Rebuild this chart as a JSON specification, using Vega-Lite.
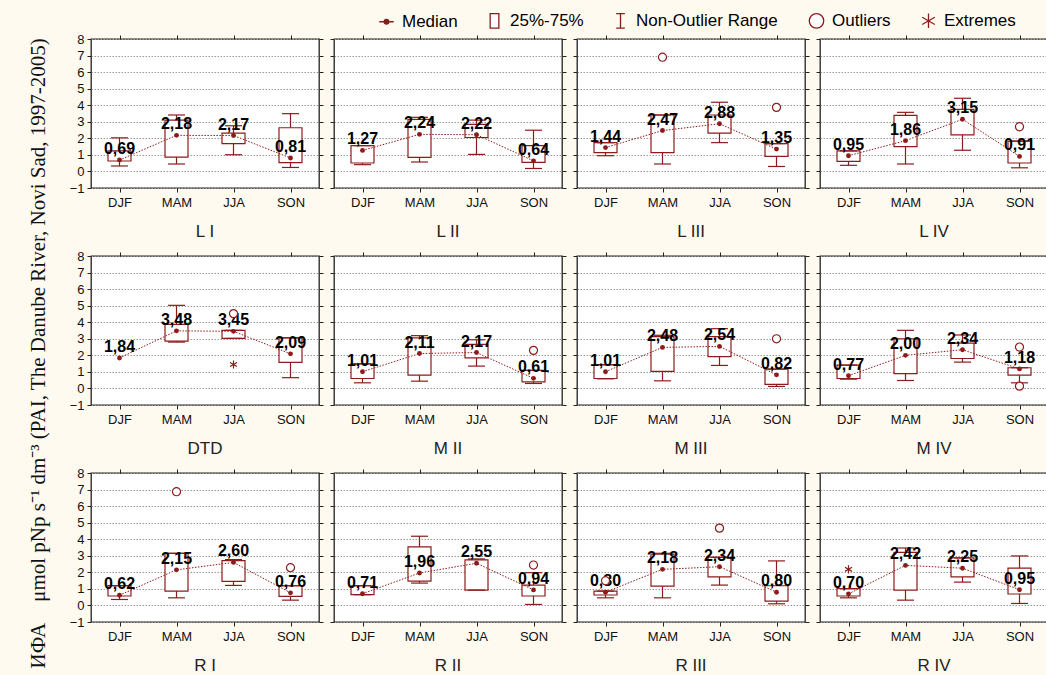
{
"$schema":"https://vega.github.io/schema/vega-lite/v6.json",
"background":"#FFFAF0",
"padding":{"left":27,"top":12,"right":0,"bottom":0},
"title":{"text":"ИФА\u00a0\u00a0\u00a0 μmol pNp s⁻¹ dm⁻³ (PAI, The Danube River, Novi Sad, 1997-2005)","orient":"left","anchor":"middle","font":"Liberation Serif","fontSize":21,"fontWeight":"normal","color":"#111","offset":20,"dx":-10},
"data":{"values":[
{"p":"L I","s":"DJF","lo":0.33,"q1":0.63,"md":0.69,"q3":1.24,"hi":2.03,"lab":"0,69"},
{"p":"L I","s":"MAM","lo":0.45,"q1":0.87,"md":2.18,"q3":3.1,"hi":3.41,"lab":"2,18"},
{"p":"L I","s":"JJA","lo":1.01,"q1":1.68,"md":2.17,"q3":2.31,"hi":2.76,"lab":"2,17"},
{"p":"L I","s":"SON","lo":0.24,"q1":0.53,"md":0.81,"q3":2.64,"hi":3.49,"lab":"0,81"},
{"p":"L II","s":"DJF","lo":0.41,"q1":0.51,"md":1.27,"q3":1.56,"hi":1.56,"lab":"1,27"},
{"p":"L II","s":"MAM","lo":0.57,"q1":0.85,"md":2.24,"q3":3.14,"hi":3.27,"lab":"2,24"},
{"p":"L II","s":"JJA","lo":1.03,"q1":2.05,"md":2.22,"q3":2.84,"hi":3.1,"lab":"2,22"},
{"p":"L II","s":"SON","lo":0.18,"q1":0.55,"md":0.64,"q3":1.56,"hi":2.49,"lab":"0,64"},
{"p":"L III","s":"DJF","lo":0.95,"q1":1.14,"md":1.44,"q3":1.74,"hi":1.74,"lab":"1,44"},
{"p":"L III","s":"MAM","lo":0.45,"q1":1.14,"md":2.47,"q3":3.41,"hi":3.41,"lab":"2,47"},
{"p":"L III","s":"JJA","lo":1.74,"q1":2.31,"md":2.88,"q3":3.41,"hi":4.18,"lab":"2,88"},
{"p":"L III","s":"SON","lo":0.3,"q1":0.91,"md":1.35,"q3":1.68,"hi":1.68,"lab":"1,35"},
{"p":"L III","s":"MAM","v":6.9,"k":"Outliers"},
{"p":"L III","s":"SON","v":3.87,"k":"Outliers"},
{"p":"L IV","s":"DJF","lo":0.37,"q1":0.61,"md":0.95,"q3":1.24,"hi":1.24,"lab":"0,95"},
{"p":"L IV","s":"MAM","lo":0.45,"q1":1.5,"md":1.86,"q3":3.39,"hi":3.57,"lab":"1,86"},
{"p":"L IV","s":"JJA","lo":1.28,"q1":2.21,"md":3.15,"q3":3.75,"hi":4.42,"lab":"3,15"},
{"p":"L IV","s":"SON","lo":0.22,"q1":0.51,"md":0.91,"q3":1.83,"hi":1.83,"lab":"0,91"},
{"p":"L IV","s":"SON","v":2.7,"k":"Outliers"},
{"p":"DTD","s":"DJF","lo":null,"q1":null,"md":1.84,"q3":null,"hi":null,"lab":"1,84"},
{"p":"DTD","s":"MAM","lo":2.8,"q1":2.86,"md":3.48,"q3":3.87,"hi":5.02,"lab":"3,48"},
{"p":"DTD","s":"JJA","lo":3.02,"q1":3.02,"md":3.45,"q3":3.51,"hi":3.51,"lab":"3,45"},
{"p":"DTD","s":"SON","lo":0.65,"q1":1.57,"md":2.09,"q3":3.06,"hi":3.06,"lab":"2,09"},
{"p":"DTD","s":"JJA","v":4.52,"k":"Outliers"},
{"p":"DTD","s":"JJA","v":1.45,"k":"Extremes"},
{"p":"M II","s":"DJF","lo":0.34,"q1":0.6,"md":1.01,"q3":1.49,"hi":1.49,"lab":"1,01"},
{"p":"M II","s":"MAM","lo":0.44,"q1":0.81,"md":2.11,"q3":3.06,"hi":3.19,"lab":"2,11"},
{"p":"M II","s":"JJA","lo":1.35,"q1":1.85,"md":2.17,"q3":2.66,"hi":2.94,"lab":"2,17"},
{"p":"M II","s":"SON","lo":0.3,"q1":0.4,"md":0.61,"q3":1.09,"hi":1.09,"lab":"0,61"},
{"p":"M II","s":"SON","v":2.3,"k":"Outliers"},
{"p":"M III","s":"DJF","lo":0.58,"q1":0.6,"md":1.01,"q3":1.43,"hi":1.43,"lab":"1,01"},
{"p":"M III","s":"MAM","lo":0.46,"q1":1.03,"md":2.48,"q3":3.13,"hi":3.21,"lab":"2,48"},
{"p":"M III","s":"JJA","lo":1.39,"q1":1.92,"md":2.54,"q3":3.13,"hi":3.61,"lab":"2,54"},
{"p":"M III","s":"SON","lo":0.12,"q1":0.24,"md":0.82,"q3":1.17,"hi":1.17,"lab":"0,82"},
{"p":"M III","s":"SON","v":3.0,"k":"Outliers"},
{"p":"M IV","s":"DJF","lo":0.56,"q1":0.6,"md":0.77,"q3":1.41,"hi":1.41,"lab":"0,77"},
{"p":"M IV","s":"MAM","lo":0.48,"q1":0.89,"md":2.0,"q3":3.0,"hi":3.51,"lab":"2,00"},
{"p":"M IV","s":"JJA","lo":1.59,"q1":1.81,"md":2.34,"q3":2.74,"hi":3.23,"lab":"2,34"},
{"p":"M IV","s":"SON","lo":0.34,"q1":0.81,"md":1.18,"q3":1.25,"hi":1.25,"lab":"1,18"},
{"p":"M IV","s":"SON","v":2.5,"k":"Outliers"},
{"p":"M IV","s":"SON","v":0.14,"k":"Outliers"},
{"p":"R I","s":"DJF","lo":0.36,"q1":0.57,"md":0.62,"q3":1.2,"hi":1.2,"lab":"0,62"},
{"p":"R I","s":"MAM","lo":0.46,"q1":0.87,"md":2.15,"q3":3.15,"hi":3.15,"lab":"2,15"},
{"p":"R I","s":"JJA","lo":1.21,"q1":1.45,"md":2.6,"q3":2.71,"hi":2.77,"lab":"2,60"},
{"p":"R I","s":"SON","lo":0.32,"q1":0.55,"md":0.76,"q3":1.19,"hi":1.19,"lab":"0,76"},
{"p":"R I","s":"MAM","v":6.87,"k":"Outliers"},
{"p":"R I","s":"SON","v":2.28,"k":"Outliers"},
{"p":"R II","s":"DJF","lo":0.65,"q1":0.65,"md":0.71,"q3":1.19,"hi":1.19,"lab":"0,71"},
{"p":"R II","s":"MAM","lo":1.35,"q1":1.47,"md":1.96,"q3":3.54,"hi":4.18,"lab":"1,96"},
{"p":"R II","s":"JJA","lo":0.93,"q1":0.93,"md":2.55,"q3":2.75,"hi":2.81,"lab":"2,55"},
{"p":"R II","s":"SON","lo":0.06,"q1":0.57,"md":0.94,"q3":1.23,"hi":1.98,"lab":"0,94"},
{"p":"R II","s":"SON","v":2.44,"k":"Outliers"},
{"p":"R III","s":"DJF","lo":0.46,"q1":0.63,"md":0.8,"q3":0.87,"hi":0.87,"lab":"0,80"},
{"p":"R III","s":"MAM","lo":0.46,"q1":1.17,"md":2.18,"q3":3.1,"hi":3.15,"lab":"2,18"},
{"p":"R III","s":"JJA","lo":1.23,"q1":1.72,"md":2.34,"q3":2.91,"hi":2.91,"lab":"2,34"},
{"p":"R III","s":"SON","lo":0.1,"q1":0.26,"md":0.8,"q3":1.19,"hi":2.69,"lab":"0,80"},
{"p":"R III","s":"DJF","v":1.49,"k":"Outliers"},
{"p":"R III","s":"JJA","v":4.67,"k":"Outliers"},
{"p":"R IV","s":"DJF","lo":0.46,"q1":0.57,"md":0.7,"q3":1.01,"hi":1.01,"lab":"0,70"},
{"p":"R IV","s":"MAM","lo":0.32,"q1":0.93,"md":2.42,"q3":3.21,"hi":3.47,"lab":"2,42"},
{"p":"R IV","s":"JJA","lo":1.41,"q1":1.72,"md":2.25,"q3":2.87,"hi":2.87,"lab":"2,25"},
{"p":"R IV","s":"SON","lo":0.12,"q1":0.69,"md":0.95,"q3":2.26,"hi":2.99,"lab":"0,95"},
{"p":"R IV","s":"DJF","v":2.18,"k":"Extremes"}
]},
"columns":4,
"spacing":{"row":68,"column":15},
"bounds":"flush",
"concat":[
{"width":228,"height":149,"title":"L I","transform":[{"filter":"datum.p==='L I'"}],"resolve":{"axis":{"x":"independent","y":"independent"}},"layer":[
{"transform":[{"filter":"!datum.k"}],"mark":{"type":"rule","color":"#8E1B1B","strokeWidth":1.2},"encoding":{"x":{"field":"s","type":"nominal","title":null,"scale":{"type":"point","padding":0.5,"domain":["DJF","MAM","JJA","SON"]},"axis":{"orient":"bottom"}},"y":{"field":"lo","type":"quantitative","title":null,"scale":{"domain":[-1,8],"nice":false,"zero":false},"axis":{"orient":"left","labels":true,"values":[-1,0,1,2,3,4,5,6,7,8]}},"y2":{"field":"hi"}}},
{"transform":[{"filter":"!datum.k"}],"mark":{"type":"bar","width":23,"fill":"white","stroke":"#8E1B1B","strokeWidth":1.2},"encoding":{"x":{"field":"s","type":"nominal","title":null,"axis":{"orient":"top","labels":false}},"y":{"field":"q1","type":"quantitative","title":null,"axis":{"orient":"right","labels":false,"grid":false,"values":[-1,0,1,2,3,4,5,6,7,8]}},"y2":{"field":"q3"}}},
{"transform":[{"filter":"!datum.k"},{"fold":["lo","hi"],"as":["w","wv"]}],"mark":{"type":"tick","orient":"horizontal","size":17,"thickness":1.2,"color":"#8E1B1B","opacity":1},"encoding":{"x":{"field":"s","type":"nominal","axis":null},"y":{"field":"wv","type":"quantitative","axis":null}}},
{"transform":[{"filter":"!datum.k"}],"mark":{"type":"line","color":"#8E1B1B","strokeWidth":1,"strokeDash":[1.5,1.5]},"encoding":{"x":{"field":"s","type":"nominal","axis":null},"y":{"field":"md","type":"quantitative","axis":null},"order":{"value":null}}},
{"transform":[{"filter":"!datum.k"}],"mark":{"type":"circle","size":24,"color":"#8E1B1B","opacity":1},"encoding":{"x":{"field":"s","type":"nominal","axis":null},"y":{"field":"md","type":"quantitative","axis":null}}},
{"transform":[{"filter":"!datum.k"}],"mark":{"type":"text","dy":-11,"font":"Liberation Sans","fontSize":16,"fontWeight":"bold","color":"#000"},"encoding":{"x":{"field":"s","type":"nominal","axis":null},"y":{"field":"md","type":"quantitative","axis":null},"text":{"field":"lab"}}},
{"transform":[{"filter":"datum.k"}],"mark":{"type":"point","size":65,"strokeWidth":1.2,"opacity":1},"encoding":{"x":{"field":"s","type":"nominal","axis":null},"y":{"field":"v","type":"quantitative","axis":null},"shape":{"field":"k","type":"nominal","title":null,"scale":{"domain":["Median","25%-75%","Non-Outlier Range","Outliers","Extremes"],"range":["M-1,0H-0.3M0.3,0H1M-0.32,0A0.32,0.32,0,1,1,0.32,0A0.32,0.32,0,1,1,-0.32,0Z","M-0.6,-1H0.6V1H-0.6Z","M-0.6,-1H0.6M0,-1V1M-0.6,1H0.6","circle","M0,-1V1M-0.87,-0.5L0.87,0.5M-0.87,0.5L0.87,-0.5"]}},"fill":{"field":"k","type":"nominal","title":null,"scale":{"domain":["Median","25%-75%","Non-Outlier Range","Outliers","Extremes"],"range":["#8E1B1B","white","transparent","white","transparent"]}},"stroke":{"field":"k","type":"nominal","title":null,"scale":{"domain":["Median","25%-75%","Non-Outlier Range","Outliers","Extremes"],"range":["#8E1B1B","#8E1B1B","#8E1B1B","#8E1B1B","#8E1B1B"]}}}}
]},
{"width":228,"height":149,"title":"L II","transform":[{"filter":"datum.p==='L II'"}],"resolve":{"axis":{"x":"independent","y":"independent"}},"layer":[
{"transform":[{"filter":"!datum.k"}],"mark":{"type":"rule","color":"#8E1B1B","strokeWidth":1.2},"encoding":{"x":{"field":"s","type":"nominal","title":null,"scale":{"type":"point","padding":0.5,"domain":["DJF","MAM","JJA","SON"]},"axis":{"orient":"bottom"}},"y":{"field":"lo","type":"quantitative","title":null,"scale":{"domain":[-1,8],"nice":false,"zero":false},"axis":{"orient":"left","labels":false,"values":[-1,0,1,2,3,4,5,6,7,8]}},"y2":{"field":"hi"}}},
{"transform":[{"filter":"!datum.k"}],"mark":{"type":"bar","width":23,"fill":"white","stroke":"#8E1B1B","strokeWidth":1.2},"encoding":{"x":{"field":"s","type":"nominal","title":null,"axis":{"orient":"top","labels":false}},"y":{"field":"q1","type":"quantitative","title":null,"axis":{"orient":"right","labels":false,"grid":false,"values":[-1,0,1,2,3,4,5,6,7,8]}},"y2":{"field":"q3"}}},
{"transform":[{"filter":"!datum.k"},{"fold":["lo","hi"],"as":["w","wv"]}],"mark":{"type":"tick","orient":"horizontal","size":17,"thickness":1.2,"color":"#8E1B1B","opacity":1},"encoding":{"x":{"field":"s","type":"nominal","axis":null},"y":{"field":"wv","type":"quantitative","axis":null}}},
{"transform":[{"filter":"!datum.k"}],"mark":{"type":"line","color":"#8E1B1B","strokeWidth":1,"strokeDash":[1.5,1.5]},"encoding":{"x":{"field":"s","type":"nominal","axis":null},"y":{"field":"md","type":"quantitative","axis":null},"order":{"value":null}}},
{"transform":[{"filter":"!datum.k"}],"mark":{"type":"circle","size":24,"color":"#8E1B1B","opacity":1},"encoding":{"x":{"field":"s","type":"nominal","axis":null},"y":{"field":"md","type":"quantitative","axis":null}}},
{"transform":[{"filter":"!datum.k"}],"mark":{"type":"text","dy":-11,"font":"Liberation Sans","fontSize":16,"fontWeight":"bold","color":"#000"},"encoding":{"x":{"field":"s","type":"nominal","axis":null},"y":{"field":"md","type":"quantitative","axis":null},"text":{"field":"lab"}}},
{"transform":[{"filter":"datum.k"}],"mark":{"type":"point","size":65,"strokeWidth":1.2,"opacity":1},"encoding":{"x":{"field":"s","type":"nominal","axis":null},"y":{"field":"v","type":"quantitative","axis":null},"shape":{"field":"k","type":"nominal","title":null,"scale":{"domain":["Median","25%-75%","Non-Outlier Range","Outliers","Extremes"],"range":["M-1,0H-0.3M0.3,0H1M-0.32,0A0.32,0.32,0,1,1,0.32,0A0.32,0.32,0,1,1,-0.32,0Z","M-0.6,-1H0.6V1H-0.6Z","M-0.6,-1H0.6M0,-1V1M-0.6,1H0.6","circle","M0,-1V1M-0.87,-0.5L0.87,0.5M-0.87,0.5L0.87,-0.5"]}},"fill":{"field":"k","type":"nominal","title":null,"scale":{"domain":["Median","25%-75%","Non-Outlier Range","Outliers","Extremes"],"range":["#8E1B1B","white","transparent","white","transparent"]}},"stroke":{"field":"k","type":"nominal","title":null,"scale":{"domain":["Median","25%-75%","Non-Outlier Range","Outliers","Extremes"],"range":["#8E1B1B","#8E1B1B","#8E1B1B","#8E1B1B","#8E1B1B"]}}}}
]},
{"width":228,"height":149,"title":"L III","transform":[{"filter":"datum.p==='L III'"}],"resolve":{"axis":{"x":"independent","y":"independent"}},"layer":[
{"transform":[{"filter":"!datum.k"}],"mark":{"type":"rule","color":"#8E1B1B","strokeWidth":1.2},"encoding":{"x":{"field":"s","type":"nominal","title":null,"scale":{"type":"point","padding":0.5,"domain":["DJF","MAM","JJA","SON"]},"axis":{"orient":"bottom"}},"y":{"field":"lo","type":"quantitative","title":null,"scale":{"domain":[-1,8],"nice":false,"zero":false},"axis":{"orient":"left","labels":false,"values":[-1,0,1,2,3,4,5,6,7,8]}},"y2":{"field":"hi"}}},
{"transform":[{"filter":"!datum.k"}],"mark":{"type":"bar","width":23,"fill":"white","stroke":"#8E1B1B","strokeWidth":1.2},"encoding":{"x":{"field":"s","type":"nominal","title":null,"axis":{"orient":"top","labels":false}},"y":{"field":"q1","type":"quantitative","title":null,"axis":{"orient":"right","labels":false,"grid":false,"values":[-1,0,1,2,3,4,5,6,7,8]}},"y2":{"field":"q3"}}},
{"transform":[{"filter":"!datum.k"},{"fold":["lo","hi"],"as":["w","wv"]}],"mark":{"type":"tick","orient":"horizontal","size":17,"thickness":1.2,"color":"#8E1B1B","opacity":1},"encoding":{"x":{"field":"s","type":"nominal","axis":null},"y":{"field":"wv","type":"quantitative","axis":null}}},
{"transform":[{"filter":"!datum.k"}],"mark":{"type":"line","color":"#8E1B1B","strokeWidth":1,"strokeDash":[1.5,1.5]},"encoding":{"x":{"field":"s","type":"nominal","axis":null},"y":{"field":"md","type":"quantitative","axis":null},"order":{"value":null}}},
{"transform":[{"filter":"!datum.k"}],"mark":{"type":"circle","size":24,"color":"#8E1B1B","opacity":1},"encoding":{"x":{"field":"s","type":"nominal","axis":null},"y":{"field":"md","type":"quantitative","axis":null}}},
{"transform":[{"filter":"!datum.k"}],"mark":{"type":"text","dy":-11,"font":"Liberation Sans","fontSize":16,"fontWeight":"bold","color":"#000"},"encoding":{"x":{"field":"s","type":"nominal","axis":null},"y":{"field":"md","type":"quantitative","axis":null},"text":{"field":"lab"}}},
{"transform":[{"filter":"datum.k"}],"mark":{"type":"point","size":65,"strokeWidth":1.2,"opacity":1},"encoding":{"x":{"field":"s","type":"nominal","axis":null},"y":{"field":"v","type":"quantitative","axis":null},"shape":{"field":"k","type":"nominal","title":null,"scale":{"domain":["Median","25%-75%","Non-Outlier Range","Outliers","Extremes"],"range":["M-1,0H-0.3M0.3,0H1M-0.32,0A0.32,0.32,0,1,1,0.32,0A0.32,0.32,0,1,1,-0.32,0Z","M-0.6,-1H0.6V1H-0.6Z","M-0.6,-1H0.6M0,-1V1M-0.6,1H0.6","circle","M0,-1V1M-0.87,-0.5L0.87,0.5M-0.87,0.5L0.87,-0.5"]}},"fill":{"field":"k","type":"nominal","title":null,"scale":{"domain":["Median","25%-75%","Non-Outlier Range","Outliers","Extremes"],"range":["#8E1B1B","white","transparent","white","transparent"]}},"stroke":{"field":"k","type":"nominal","title":null,"scale":{"domain":["Median","25%-75%","Non-Outlier Range","Outliers","Extremes"],"range":["#8E1B1B","#8E1B1B","#8E1B1B","#8E1B1B","#8E1B1B"]}}}}
]},
{"width":228,"height":149,"title":"L IV","transform":[{"filter":"datum.p==='L IV'"}],"resolve":{"axis":{"x":"independent","y":"independent"}},"layer":[
{"transform":[{"filter":"!datum.k"}],"mark":{"type":"rule","color":"#8E1B1B","strokeWidth":1.2},"encoding":{"x":{"field":"s","type":"nominal","title":null,"scale":{"type":"point","padding":0.5,"domain":["DJF","MAM","JJA","SON"]},"axis":{"orient":"bottom"}},"y":{"field":"lo","type":"quantitative","title":null,"scale":{"domain":[-1,8],"nice":false,"zero":false},"axis":{"orient":"left","labels":false,"values":[-1,0,1,2,3,4,5,6,7,8]}},"y2":{"field":"hi"}}},
{"transform":[{"filter":"!datum.k"}],"mark":{"type":"bar","width":23,"fill":"white","stroke":"#8E1B1B","strokeWidth":1.2},"encoding":{"x":{"field":"s","type":"nominal","title":null,"axis":{"orient":"top","labels":false}},"y":{"field":"q1","type":"quantitative","title":null,"axis":{"orient":"right","labels":false,"grid":false,"values":[-1,0,1,2,3,4,5,6,7,8]}},"y2":{"field":"q3"}}},
{"transform":[{"filter":"!datum.k"},{"fold":["lo","hi"],"as":["w","wv"]}],"mark":{"type":"tick","orient":"horizontal","size":17,"thickness":1.2,"color":"#8E1B1B","opacity":1},"encoding":{"x":{"field":"s","type":"nominal","axis":null},"y":{"field":"wv","type":"quantitative","axis":null}}},
{"transform":[{"filter":"!datum.k"}],"mark":{"type":"line","color":"#8E1B1B","strokeWidth":1,"strokeDash":[1.5,1.5]},"encoding":{"x":{"field":"s","type":"nominal","axis":null},"y":{"field":"md","type":"quantitative","axis":null},"order":{"value":null}}},
{"transform":[{"filter":"!datum.k"}],"mark":{"type":"circle","size":24,"color":"#8E1B1B","opacity":1},"encoding":{"x":{"field":"s","type":"nominal","axis":null},"y":{"field":"md","type":"quantitative","axis":null}}},
{"transform":[{"filter":"!datum.k"}],"mark":{"type":"text","dy":-11,"font":"Liberation Sans","fontSize":16,"fontWeight":"bold","color":"#000"},"encoding":{"x":{"field":"s","type":"nominal","axis":null},"y":{"field":"md","type":"quantitative","axis":null},"text":{"field":"lab"}}},
{"transform":[{"filter":"datum.k"}],"mark":{"type":"point","size":65,"strokeWidth":1.2,"opacity":1},"encoding":{"x":{"field":"s","type":"nominal","axis":null},"y":{"field":"v","type":"quantitative","axis":null},"shape":{"field":"k","type":"nominal","title":null,"scale":{"domain":["Median","25%-75%","Non-Outlier Range","Outliers","Extremes"],"range":["M-1,0H-0.3M0.3,0H1M-0.32,0A0.32,0.32,0,1,1,0.32,0A0.32,0.32,0,1,1,-0.32,0Z","M-0.6,-1H0.6V1H-0.6Z","M-0.6,-1H0.6M0,-1V1M-0.6,1H0.6","circle","M0,-1V1M-0.87,-0.5L0.87,0.5M-0.87,0.5L0.87,-0.5"]}},"fill":{"field":"k","type":"nominal","title":null,"scale":{"domain":["Median","25%-75%","Non-Outlier Range","Outliers","Extremes"],"range":["#8E1B1B","white","transparent","white","transparent"]}},"stroke":{"field":"k","type":"nominal","title":null,"scale":{"domain":["Median","25%-75%","Non-Outlier Range","Outliers","Extremes"],"range":["#8E1B1B","#8E1B1B","#8E1B1B","#8E1B1B","#8E1B1B"]}}}}
]},
{"width":228,"height":149,"title":"DTD","transform":[{"filter":"datum.p==='DTD'"}],"resolve":{"axis":{"x":"independent","y":"independent"}},"layer":[
{"transform":[{"filter":"!datum.k"}],"mark":{"type":"rule","color":"#8E1B1B","strokeWidth":1.2},"encoding":{"x":{"field":"s","type":"nominal","title":null,"scale":{"type":"point","padding":0.5,"domain":["DJF","MAM","JJA","SON"]},"axis":{"orient":"bottom"}},"y":{"field":"lo","type":"quantitative","title":null,"scale":{"domain":[-1,8],"nice":false,"zero":false},"axis":{"orient":"left","labels":true,"values":[-1,0,1,2,3,4,5,6,7,8]}},"y2":{"field":"hi"}}},
{"transform":[{"filter":"!datum.k"}],"mark":{"type":"bar","width":23,"fill":"white","stroke":"#8E1B1B","strokeWidth":1.2},"encoding":{"x":{"field":"s","type":"nominal","title":null,"axis":{"orient":"top","labels":false}},"y":{"field":"q1","type":"quantitative","title":null,"axis":{"orient":"right","labels":false,"grid":false,"values":[-1,0,1,2,3,4,5,6,7,8]}},"y2":{"field":"q3"}}},
{"transform":[{"filter":"!datum.k"},{"fold":["lo","hi"],"as":["w","wv"]}],"mark":{"type":"tick","orient":"horizontal","size":17,"thickness":1.2,"color":"#8E1B1B","opacity":1},"encoding":{"x":{"field":"s","type":"nominal","axis":null},"y":{"field":"wv","type":"quantitative","axis":null}}},
{"transform":[{"filter":"!datum.k"}],"mark":{"type":"line","color":"#8E1B1B","strokeWidth":1,"strokeDash":[1.5,1.5]},"encoding":{"x":{"field":"s","type":"nominal","axis":null},"y":{"field":"md","type":"quantitative","axis":null},"order":{"value":null}}},
{"transform":[{"filter":"!datum.k"}],"mark":{"type":"circle","size":24,"color":"#8E1B1B","opacity":1},"encoding":{"x":{"field":"s","type":"nominal","axis":null},"y":{"field":"md","type":"quantitative","axis":null}}},
{"transform":[{"filter":"!datum.k"}],"mark":{"type":"text","dy":-11,"font":"Liberation Sans","fontSize":16,"fontWeight":"bold","color":"#000"},"encoding":{"x":{"field":"s","type":"nominal","axis":null},"y":{"field":"md","type":"quantitative","axis":null},"text":{"field":"lab"}}},
{"transform":[{"filter":"datum.k"}],"mark":{"type":"point","size":65,"strokeWidth":1.2,"opacity":1},"encoding":{"x":{"field":"s","type":"nominal","axis":null},"y":{"field":"v","type":"quantitative","axis":null},"shape":{"field":"k","type":"nominal","title":null,"scale":{"domain":["Median","25%-75%","Non-Outlier Range","Outliers","Extremes"],"range":["M-1,0H-0.3M0.3,0H1M-0.32,0A0.32,0.32,0,1,1,0.32,0A0.32,0.32,0,1,1,-0.32,0Z","M-0.6,-1H0.6V1H-0.6Z","M-0.6,-1H0.6M0,-1V1M-0.6,1H0.6","circle","M0,-1V1M-0.87,-0.5L0.87,0.5M-0.87,0.5L0.87,-0.5"]}},"fill":{"field":"k","type":"nominal","title":null,"scale":{"domain":["Median","25%-75%","Non-Outlier Range","Outliers","Extremes"],"range":["#8E1B1B","white","transparent","white","transparent"]}},"stroke":{"field":"k","type":"nominal","title":null,"scale":{"domain":["Median","25%-75%","Non-Outlier Range","Outliers","Extremes"],"range":["#8E1B1B","#8E1B1B","#8E1B1B","#8E1B1B","#8E1B1B"]}}}}
]},
{"width":228,"height":149,"title":"M II","transform":[{"filter":"datum.p==='M II'"}],"resolve":{"axis":{"x":"independent","y":"independent"}},"layer":[
{"transform":[{"filter":"!datum.k"}],"mark":{"type":"rule","color":"#8E1B1B","strokeWidth":1.2},"encoding":{"x":{"field":"s","type":"nominal","title":null,"scale":{"type":"point","padding":0.5,"domain":["DJF","MAM","JJA","SON"]},"axis":{"orient":"bottom"}},"y":{"field":"lo","type":"quantitative","title":null,"scale":{"domain":[-1,8],"nice":false,"zero":false},"axis":{"orient":"left","labels":false,"values":[-1,0,1,2,3,4,5,6,7,8]}},"y2":{"field":"hi"}}},
{"transform":[{"filter":"!datum.k"}],"mark":{"type":"bar","width":23,"fill":"white","stroke":"#8E1B1B","strokeWidth":1.2},"encoding":{"x":{"field":"s","type":"nominal","title":null,"axis":{"orient":"top","labels":false}},"y":{"field":"q1","type":"quantitative","title":null,"axis":{"orient":"right","labels":false,"grid":false,"values":[-1,0,1,2,3,4,5,6,7,8]}},"y2":{"field":"q3"}}},
{"transform":[{"filter":"!datum.k"},{"fold":["lo","hi"],"as":["w","wv"]}],"mark":{"type":"tick","orient":"horizontal","size":17,"thickness":1.2,"color":"#8E1B1B","opacity":1},"encoding":{"x":{"field":"s","type":"nominal","axis":null},"y":{"field":"wv","type":"quantitative","axis":null}}},
{"transform":[{"filter":"!datum.k"}],"mark":{"type":"line","color":"#8E1B1B","strokeWidth":1,"strokeDash":[1.5,1.5]},"encoding":{"x":{"field":"s","type":"nominal","axis":null},"y":{"field":"md","type":"quantitative","axis":null},"order":{"value":null}}},
{"transform":[{"filter":"!datum.k"}],"mark":{"type":"circle","size":24,"color":"#8E1B1B","opacity":1},"encoding":{"x":{"field":"s","type":"nominal","axis":null},"y":{"field":"md","type":"quantitative","axis":null}}},
{"transform":[{"filter":"!datum.k"}],"mark":{"type":"text","dy":-11,"font":"Liberation Sans","fontSize":16,"fontWeight":"bold","color":"#000"},"encoding":{"x":{"field":"s","type":"nominal","axis":null},"y":{"field":"md","type":"quantitative","axis":null},"text":{"field":"lab"}}},
{"transform":[{"filter":"datum.k"}],"mark":{"type":"point","size":65,"strokeWidth":1.2,"opacity":1},"encoding":{"x":{"field":"s","type":"nominal","axis":null},"y":{"field":"v","type":"quantitative","axis":null},"shape":{"field":"k","type":"nominal","title":null,"scale":{"domain":["Median","25%-75%","Non-Outlier Range","Outliers","Extremes"],"range":["M-1,0H-0.3M0.3,0H1M-0.32,0A0.32,0.32,0,1,1,0.32,0A0.32,0.32,0,1,1,-0.32,0Z","M-0.6,-1H0.6V1H-0.6Z","M-0.6,-1H0.6M0,-1V1M-0.6,1H0.6","circle","M0,-1V1M-0.87,-0.5L0.87,0.5M-0.87,0.5L0.87,-0.5"]}},"fill":{"field":"k","type":"nominal","title":null,"scale":{"domain":["Median","25%-75%","Non-Outlier Range","Outliers","Extremes"],"range":["#8E1B1B","white","transparent","white","transparent"]}},"stroke":{"field":"k","type":"nominal","title":null,"scale":{"domain":["Median","25%-75%","Non-Outlier Range","Outliers","Extremes"],"range":["#8E1B1B","#8E1B1B","#8E1B1B","#8E1B1B","#8E1B1B"]}}}}
]},
{"width":228,"height":149,"title":"M III","transform":[{"filter":"datum.p==='M III'"}],"resolve":{"axis":{"x":"independent","y":"independent"}},"layer":[
{"transform":[{"filter":"!datum.k"}],"mark":{"type":"rule","color":"#8E1B1B","strokeWidth":1.2},"encoding":{"x":{"field":"s","type":"nominal","title":null,"scale":{"type":"point","padding":0.5,"domain":["DJF","MAM","JJA","SON"]},"axis":{"orient":"bottom"}},"y":{"field":"lo","type":"quantitative","title":null,"scale":{"domain":[-1,8],"nice":false,"zero":false},"axis":{"orient":"left","labels":false,"values":[-1,0,1,2,3,4,5,6,7,8]}},"y2":{"field":"hi"}}},
{"transform":[{"filter":"!datum.k"}],"mark":{"type":"bar","width":23,"fill":"white","stroke":"#8E1B1B","strokeWidth":1.2},"encoding":{"x":{"field":"s","type":"nominal","title":null,"axis":{"orient":"top","labels":false}},"y":{"field":"q1","type":"quantitative","title":null,"axis":{"orient":"right","labels":false,"grid":false,"values":[-1,0,1,2,3,4,5,6,7,8]}},"y2":{"field":"q3"}}},
{"transform":[{"filter":"!datum.k"},{"fold":["lo","hi"],"as":["w","wv"]}],"mark":{"type":"tick","orient":"horizontal","size":17,"thickness":1.2,"color":"#8E1B1B","opacity":1},"encoding":{"x":{"field":"s","type":"nominal","axis":null},"y":{"field":"wv","type":"quantitative","axis":null}}},
{"transform":[{"filter":"!datum.k"}],"mark":{"type":"line","color":"#8E1B1B","strokeWidth":1,"strokeDash":[1.5,1.5]},"encoding":{"x":{"field":"s","type":"nominal","axis":null},"y":{"field":"md","type":"quantitative","axis":null},"order":{"value":null}}},
{"transform":[{"filter":"!datum.k"}],"mark":{"type":"circle","size":24,"color":"#8E1B1B","opacity":1},"encoding":{"x":{"field":"s","type":"nominal","axis":null},"y":{"field":"md","type":"quantitative","axis":null}}},
{"transform":[{"filter":"!datum.k"}],"mark":{"type":"text","dy":-11,"font":"Liberation Sans","fontSize":16,"fontWeight":"bold","color":"#000"},"encoding":{"x":{"field":"s","type":"nominal","axis":null},"y":{"field":"md","type":"quantitative","axis":null},"text":{"field":"lab"}}},
{"transform":[{"filter":"datum.k"}],"mark":{"type":"point","size":65,"strokeWidth":1.2,"opacity":1},"encoding":{"x":{"field":"s","type":"nominal","axis":null},"y":{"field":"v","type":"quantitative","axis":null},"shape":{"field":"k","type":"nominal","title":null,"scale":{"domain":["Median","25%-75%","Non-Outlier Range","Outliers","Extremes"],"range":["M-1,0H-0.3M0.3,0H1M-0.32,0A0.32,0.32,0,1,1,0.32,0A0.32,0.32,0,1,1,-0.32,0Z","M-0.6,-1H0.6V1H-0.6Z","M-0.6,-1H0.6M0,-1V1M-0.6,1H0.6","circle","M0,-1V1M-0.87,-0.5L0.87,0.5M-0.87,0.5L0.87,-0.5"]}},"fill":{"field":"k","type":"nominal","title":null,"scale":{"domain":["Median","25%-75%","Non-Outlier Range","Outliers","Extremes"],"range":["#8E1B1B","white","transparent","white","transparent"]}},"stroke":{"field":"k","type":"nominal","title":null,"scale":{"domain":["Median","25%-75%","Non-Outlier Range","Outliers","Extremes"],"range":["#8E1B1B","#8E1B1B","#8E1B1B","#8E1B1B","#8E1B1B"]}}}}
]},
{"width":228,"height":149,"title":"M IV","transform":[{"filter":"datum.p==='M IV'"}],"resolve":{"axis":{"x":"independent","y":"independent"}},"layer":[
{"transform":[{"filter":"!datum.k"}],"mark":{"type":"rule","color":"#8E1B1B","strokeWidth":1.2},"encoding":{"x":{"field":"s","type":"nominal","title":null,"scale":{"type":"point","padding":0.5,"domain":["DJF","MAM","JJA","SON"]},"axis":{"orient":"bottom"}},"y":{"field":"lo","type":"quantitative","title":null,"scale":{"domain":[-1,8],"nice":false,"zero":false},"axis":{"orient":"left","labels":false,"values":[-1,0,1,2,3,4,5,6,7,8]}},"y2":{"field":"hi"}}},
{"transform":[{"filter":"!datum.k"}],"mark":{"type":"bar","width":23,"fill":"white","stroke":"#8E1B1B","strokeWidth":1.2},"encoding":{"x":{"field":"s","type":"nominal","title":null,"axis":{"orient":"top","labels":false}},"y":{"field":"q1","type":"quantitative","title":null,"axis":{"orient":"right","labels":false,"grid":false,"values":[-1,0,1,2,3,4,5,6,7,8]}},"y2":{"field":"q3"}}},
{"transform":[{"filter":"!datum.k"},{"fold":["lo","hi"],"as":["w","wv"]}],"mark":{"type":"tick","orient":"horizontal","size":17,"thickness":1.2,"color":"#8E1B1B","opacity":1},"encoding":{"x":{"field":"s","type":"nominal","axis":null},"y":{"field":"wv","type":"quantitative","axis":null}}},
{"transform":[{"filter":"!datum.k"}],"mark":{"type":"line","color":"#8E1B1B","strokeWidth":1,"strokeDash":[1.5,1.5]},"encoding":{"x":{"field":"s","type":"nominal","axis":null},"y":{"field":"md","type":"quantitative","axis":null},"order":{"value":null}}},
{"transform":[{"filter":"!datum.k"}],"mark":{"type":"circle","size":24,"color":"#8E1B1B","opacity":1},"encoding":{"x":{"field":"s","type":"nominal","axis":null},"y":{"field":"md","type":"quantitative","axis":null}}},
{"transform":[{"filter":"!datum.k"}],"mark":{"type":"text","dy":-11,"font":"Liberation Sans","fontSize":16,"fontWeight":"bold","color":"#000"},"encoding":{"x":{"field":"s","type":"nominal","axis":null},"y":{"field":"md","type":"quantitative","axis":null},"text":{"field":"lab"}}},
{"transform":[{"filter":"datum.k"}],"mark":{"type":"point","size":65,"strokeWidth":1.2,"opacity":1},"encoding":{"x":{"field":"s","type":"nominal","axis":null},"y":{"field":"v","type":"quantitative","axis":null},"shape":{"field":"k","type":"nominal","title":null,"scale":{"domain":["Median","25%-75%","Non-Outlier Range","Outliers","Extremes"],"range":["M-1,0H-0.3M0.3,0H1M-0.32,0A0.32,0.32,0,1,1,0.32,0A0.32,0.32,0,1,1,-0.32,0Z","M-0.6,-1H0.6V1H-0.6Z","M-0.6,-1H0.6M0,-1V1M-0.6,1H0.6","circle","M0,-1V1M-0.87,-0.5L0.87,0.5M-0.87,0.5L0.87,-0.5"]}},"fill":{"field":"k","type":"nominal","title":null,"scale":{"domain":["Median","25%-75%","Non-Outlier Range","Outliers","Extremes"],"range":["#8E1B1B","white","transparent","white","transparent"]}},"stroke":{"field":"k","type":"nominal","title":null,"scale":{"domain":["Median","25%-75%","Non-Outlier Range","Outliers","Extremes"],"range":["#8E1B1B","#8E1B1B","#8E1B1B","#8E1B1B","#8E1B1B"]}}}}
]},
{"width":228,"height":149,"title":"R I","transform":[{"filter":"datum.p==='R I'"}],"resolve":{"axis":{"x":"independent","y":"independent"}},"layer":[
{"transform":[{"filter":"!datum.k"}],"mark":{"type":"rule","color":"#8E1B1B","strokeWidth":1.2},"encoding":{"x":{"field":"s","type":"nominal","title":null,"scale":{"type":"point","padding":0.5,"domain":["DJF","MAM","JJA","SON"]},"axis":{"orient":"bottom"}},"y":{"field":"lo","type":"quantitative","title":null,"scale":{"domain":[-1,8],"nice":false,"zero":false},"axis":{"orient":"left","labels":true,"values":[-1,0,1,2,3,4,5,6,7,8]}},"y2":{"field":"hi"}}},
{"transform":[{"filter":"!datum.k"}],"mark":{"type":"bar","width":23,"fill":"white","stroke":"#8E1B1B","strokeWidth":1.2},"encoding":{"x":{"field":"s","type":"nominal","title":null,"axis":{"orient":"top","labels":false}},"y":{"field":"q1","type":"quantitative","title":null,"axis":{"orient":"right","labels":false,"grid":false,"values":[-1,0,1,2,3,4,5,6,7,8]}},"y2":{"field":"q3"}}},
{"transform":[{"filter":"!datum.k"},{"fold":["lo","hi"],"as":["w","wv"]}],"mark":{"type":"tick","orient":"horizontal","size":17,"thickness":1.2,"color":"#8E1B1B","opacity":1},"encoding":{"x":{"field":"s","type":"nominal","axis":null},"y":{"field":"wv","type":"quantitative","axis":null}}},
{"transform":[{"filter":"!datum.k"}],"mark":{"type":"line","color":"#8E1B1B","strokeWidth":1,"strokeDash":[1.5,1.5]},"encoding":{"x":{"field":"s","type":"nominal","axis":null},"y":{"field":"md","type":"quantitative","axis":null},"order":{"value":null}}},
{"transform":[{"filter":"!datum.k"}],"mark":{"type":"circle","size":24,"color":"#8E1B1B","opacity":1},"encoding":{"x":{"field":"s","type":"nominal","axis":null},"y":{"field":"md","type":"quantitative","axis":null}}},
{"transform":[{"filter":"!datum.k"}],"mark":{"type":"text","dy":-11,"font":"Liberation Sans","fontSize":16,"fontWeight":"bold","color":"#000"},"encoding":{"x":{"field":"s","type":"nominal","axis":null},"y":{"field":"md","type":"quantitative","axis":null},"text":{"field":"lab"}}},
{"transform":[{"filter":"datum.k"}],"mark":{"type":"point","size":65,"strokeWidth":1.2,"opacity":1},"encoding":{"x":{"field":"s","type":"nominal","axis":null},"y":{"field":"v","type":"quantitative","axis":null},"shape":{"field":"k","type":"nominal","title":null,"scale":{"domain":["Median","25%-75%","Non-Outlier Range","Outliers","Extremes"],"range":["M-1,0H-0.3M0.3,0H1M-0.32,0A0.32,0.32,0,1,1,0.32,0A0.32,0.32,0,1,1,-0.32,0Z","M-0.6,-1H0.6V1H-0.6Z","M-0.6,-1H0.6M0,-1V1M-0.6,1H0.6","circle","M0,-1V1M-0.87,-0.5L0.87,0.5M-0.87,0.5L0.87,-0.5"]}},"fill":{"field":"k","type":"nominal","title":null,"scale":{"domain":["Median","25%-75%","Non-Outlier Range","Outliers","Extremes"],"range":["#8E1B1B","white","transparent","white","transparent"]}},"stroke":{"field":"k","type":"nominal","title":null,"scale":{"domain":["Median","25%-75%","Non-Outlier Range","Outliers","Extremes"],"range":["#8E1B1B","#8E1B1B","#8E1B1B","#8E1B1B","#8E1B1B"]}}}}
]},
{"width":228,"height":149,"title":"R II","transform":[{"filter":"datum.p==='R II'"}],"resolve":{"axis":{"x":"independent","y":"independent"}},"layer":[
{"transform":[{"filter":"!datum.k"}],"mark":{"type":"rule","color":"#8E1B1B","strokeWidth":1.2},"encoding":{"x":{"field":"s","type":"nominal","title":null,"scale":{"type":"point","padding":0.5,"domain":["DJF","MAM","JJA","SON"]},"axis":{"orient":"bottom"}},"y":{"field":"lo","type":"quantitative","title":null,"scale":{"domain":[-1,8],"nice":false,"zero":false},"axis":{"orient":"left","labels":false,"values":[-1,0,1,2,3,4,5,6,7,8]}},"y2":{"field":"hi"}}},
{"transform":[{"filter":"!datum.k"}],"mark":{"type":"bar","width":23,"fill":"white","stroke":"#8E1B1B","strokeWidth":1.2},"encoding":{"x":{"field":"s","type":"nominal","title":null,"axis":{"orient":"top","labels":false}},"y":{"field":"q1","type":"quantitative","title":null,"axis":{"orient":"right","labels":false,"grid":false,"values":[-1,0,1,2,3,4,5,6,7,8]}},"y2":{"field":"q3"}}},
{"transform":[{"filter":"!datum.k"},{"fold":["lo","hi"],"as":["w","wv"]}],"mark":{"type":"tick","orient":"horizontal","size":17,"thickness":1.2,"color":"#8E1B1B","opacity":1},"encoding":{"x":{"field":"s","type":"nominal","axis":null},"y":{"field":"wv","type":"quantitative","axis":null}}},
{"transform":[{"filter":"!datum.k"}],"mark":{"type":"line","color":"#8E1B1B","strokeWidth":1,"strokeDash":[1.5,1.5]},"encoding":{"x":{"field":"s","type":"nominal","axis":null},"y":{"field":"md","type":"quantitative","axis":null},"order":{"value":null}}},
{"transform":[{"filter":"!datum.k"}],"mark":{"type":"circle","size":24,"color":"#8E1B1B","opacity":1},"encoding":{"x":{"field":"s","type":"nominal","axis":null},"y":{"field":"md","type":"quantitative","axis":null}}},
{"transform":[{"filter":"!datum.k"}],"mark":{"type":"text","dy":-11,"font":"Liberation Sans","fontSize":16,"fontWeight":"bold","color":"#000"},"encoding":{"x":{"field":"s","type":"nominal","axis":null},"y":{"field":"md","type":"quantitative","axis":null},"text":{"field":"lab"}}},
{"transform":[{"filter":"datum.k"}],"mark":{"type":"point","size":65,"strokeWidth":1.2,"opacity":1},"encoding":{"x":{"field":"s","type":"nominal","axis":null},"y":{"field":"v","type":"quantitative","axis":null},"shape":{"field":"k","type":"nominal","title":null,"scale":{"domain":["Median","25%-75%","Non-Outlier Range","Outliers","Extremes"],"range":["M-1,0H-0.3M0.3,0H1M-0.32,0A0.32,0.32,0,1,1,0.32,0A0.32,0.32,0,1,1,-0.32,0Z","M-0.6,-1H0.6V1H-0.6Z","M-0.6,-1H0.6M0,-1V1M-0.6,1H0.6","circle","M0,-1V1M-0.87,-0.5L0.87,0.5M-0.87,0.5L0.87,-0.5"]}},"fill":{"field":"k","type":"nominal","title":null,"scale":{"domain":["Median","25%-75%","Non-Outlier Range","Outliers","Extremes"],"range":["#8E1B1B","white","transparent","white","transparent"]}},"stroke":{"field":"k","type":"nominal","title":null,"scale":{"domain":["Median","25%-75%","Non-Outlier Range","Outliers","Extremes"],"range":["#8E1B1B","#8E1B1B","#8E1B1B","#8E1B1B","#8E1B1B"]}}}}
]},
{"width":228,"height":149,"title":"R III","transform":[{"filter":"datum.p==='R III'"}],"resolve":{"axis":{"x":"independent","y":"independent"}},"layer":[
{"transform":[{"filter":"!datum.k"}],"mark":{"type":"rule","color":"#8E1B1B","strokeWidth":1.2},"encoding":{"x":{"field":"s","type":"nominal","title":null,"scale":{"type":"point","padding":0.5,"domain":["DJF","MAM","JJA","SON"]},"axis":{"orient":"bottom"}},"y":{"field":"lo","type":"quantitative","title":null,"scale":{"domain":[-1,8],"nice":false,"zero":false},"axis":{"orient":"left","labels":false,"values":[-1,0,1,2,3,4,5,6,7,8]}},"y2":{"field":"hi"}}},
{"transform":[{"filter":"!datum.k"}],"mark":{"type":"bar","width":23,"fill":"white","stroke":"#8E1B1B","strokeWidth":1.2},"encoding":{"x":{"field":"s","type":"nominal","title":null,"axis":{"orient":"top","labels":false}},"y":{"field":"q1","type":"quantitative","title":null,"axis":{"orient":"right","labels":false,"grid":false,"values":[-1,0,1,2,3,4,5,6,7,8]}},"y2":{"field":"q3"}}},
{"transform":[{"filter":"!datum.k"},{"fold":["lo","hi"],"as":["w","wv"]}],"mark":{"type":"tick","orient":"horizontal","size":17,"thickness":1.2,"color":"#8E1B1B","opacity":1},"encoding":{"x":{"field":"s","type":"nominal","axis":null},"y":{"field":"wv","type":"quantitative","axis":null}}},
{"transform":[{"filter":"!datum.k"}],"mark":{"type":"line","color":"#8E1B1B","strokeWidth":1,"strokeDash":[1.5,1.5]},"encoding":{"x":{"field":"s","type":"nominal","axis":null},"y":{"field":"md","type":"quantitative","axis":null},"order":{"value":null}}},
{"transform":[{"filter":"!datum.k"}],"mark":{"type":"circle","size":24,"color":"#8E1B1B","opacity":1},"encoding":{"x":{"field":"s","type":"nominal","axis":null},"y":{"field":"md","type":"quantitative","axis":null}}},
{"transform":[{"filter":"!datum.k"}],"mark":{"type":"text","dy":-11,"font":"Liberation Sans","fontSize":16,"fontWeight":"bold","color":"#000"},"encoding":{"x":{"field":"s","type":"nominal","axis":null},"y":{"field":"md","type":"quantitative","axis":null},"text":{"field":"lab"}}},
{"transform":[{"filter":"datum.k"}],"mark":{"type":"point","size":65,"strokeWidth":1.2,"opacity":1},"encoding":{"x":{"field":"s","type":"nominal","axis":null},"y":{"field":"v","type":"quantitative","axis":null},"shape":{"field":"k","type":"nominal","title":null,"scale":{"domain":["Median","25%-75%","Non-Outlier Range","Outliers","Extremes"],"range":["M-1,0H-0.3M0.3,0H1M-0.32,0A0.32,0.32,0,1,1,0.32,0A0.32,0.32,0,1,1,-0.32,0Z","M-0.6,-1H0.6V1H-0.6Z","M-0.6,-1H0.6M0,-1V1M-0.6,1H0.6","circle","M0,-1V1M-0.87,-0.5L0.87,0.5M-0.87,0.5L0.87,-0.5"]}},"fill":{"field":"k","type":"nominal","title":null,"scale":{"domain":["Median","25%-75%","Non-Outlier Range","Outliers","Extremes"],"range":["#8E1B1B","white","transparent","white","transparent"]}},"stroke":{"field":"k","type":"nominal","title":null,"scale":{"domain":["Median","25%-75%","Non-Outlier Range","Outliers","Extremes"],"range":["#8E1B1B","#8E1B1B","#8E1B1B","#8E1B1B","#8E1B1B"]}}}}
]},
{"width":228,"height":149,"title":"R IV","transform":[{"filter":"datum.p==='R IV'"}],"resolve":{"axis":{"x":"independent","y":"independent"}},"layer":[
{"transform":[{"filter":"!datum.k"}],"mark":{"type":"rule","color":"#8E1B1B","strokeWidth":1.2},"encoding":{"x":{"field":"s","type":"nominal","title":null,"scale":{"type":"point","padding":0.5,"domain":["DJF","MAM","JJA","SON"]},"axis":{"orient":"bottom"}},"y":{"field":"lo","type":"quantitative","title":null,"scale":{"domain":[-1,8],"nice":false,"zero":false},"axis":{"orient":"left","labels":false,"values":[-1,0,1,2,3,4,5,6,7,8]}},"y2":{"field":"hi"}}},
{"transform":[{"filter":"!datum.k"}],"mark":{"type":"bar","width":23,"fill":"white","stroke":"#8E1B1B","strokeWidth":1.2},"encoding":{"x":{"field":"s","type":"nominal","title":null,"axis":{"orient":"top","labels":false}},"y":{"field":"q1","type":"quantitative","title":null,"axis":{"orient":"right","labels":false,"grid":false,"values":[-1,0,1,2,3,4,5,6,7,8]}},"y2":{"field":"q3"}}},
{"transform":[{"filter":"!datum.k"},{"fold":["lo","hi"],"as":["w","wv"]}],"mark":{"type":"tick","orient":"horizontal","size":17,"thickness":1.2,"color":"#8E1B1B","opacity":1},"encoding":{"x":{"field":"s","type":"nominal","axis":null},"y":{"field":"wv","type":"quantitative","axis":null}}},
{"transform":[{"filter":"!datum.k"}],"mark":{"type":"line","color":"#8E1B1B","strokeWidth":1,"strokeDash":[1.5,1.5]},"encoding":{"x":{"field":"s","type":"nominal","axis":null},"y":{"field":"md","type":"quantitative","axis":null},"order":{"value":null}}},
{"transform":[{"filter":"!datum.k"}],"mark":{"type":"circle","size":24,"color":"#8E1B1B","opacity":1},"encoding":{"x":{"field":"s","type":"nominal","axis":null},"y":{"field":"md","type":"quantitative","axis":null}}},
{"transform":[{"filter":"!datum.k"}],"mark":{"type":"text","dy":-11,"font":"Liberation Sans","fontSize":16,"fontWeight":"bold","color":"#000"},"encoding":{"x":{"field":"s","type":"nominal","axis":null},"y":{"field":"md","type":"quantitative","axis":null},"text":{"field":"lab"}}},
{"transform":[{"filter":"datum.k"}],"mark":{"type":"point","size":65,"strokeWidth":1.2,"opacity":1},"encoding":{"x":{"field":"s","type":"nominal","axis":null},"y":{"field":"v","type":"quantitative","axis":null},"shape":{"field":"k","type":"nominal","title":null,"scale":{"domain":["Median","25%-75%","Non-Outlier Range","Outliers","Extremes"],"range":["M-1,0H-0.3M0.3,0H1M-0.32,0A0.32,0.32,0,1,1,0.32,0A0.32,0.32,0,1,1,-0.32,0Z","M-0.6,-1H0.6V1H-0.6Z","M-0.6,-1H0.6M0,-1V1M-0.6,1H0.6","circle","M0,-1V1M-0.87,-0.5L0.87,0.5M-0.87,0.5L0.87,-0.5"]}},"fill":{"field":"k","type":"nominal","title":null,"scale":{"domain":["Median","25%-75%","Non-Outlier Range","Outliers","Extremes"],"range":["#8E1B1B","white","transparent","white","transparent"]}},"stroke":{"field":"k","type":"nominal","title":null,"scale":{"domain":["Median","25%-75%","Non-Outlier Range","Outliers","Extremes"],"range":["#8E1B1B","#8E1B1B","#8E1B1B","#8E1B1B","#8E1B1B"]}}}}
]}
],
"config":{
"view":{"fill":"white","stroke":"#222","strokeWidth":1.3},
"axis":{"labelFont":"Liberation Sans","labelFontSize":13,"labelColor":"#111","tickColor":"#222","tickSize":4,"domain":false},
"axisX":{"grid":false,"labelPadding":4,"labelAngle":0},
"axisY":{"grid":true,"gridColor":"#9a9a9a","gridDash":[1.5,1.5],"labelPadding":3},
"title":{"orient":"bottom","font":"Liberation Sans","fontSize":17,"fontWeight":"normal","color":"#222","offset":15},
"legend":{"orient":"none","legendX":287,"legendY":-27,"direction":"horizontal","labelFont":"Liberation Sans","labelFontSize":17,"labelColor":"#000","symbolSize":210,"symbolStrokeWidth":1.3,"columnPadding":28,"labelOffset":7}
}
}
